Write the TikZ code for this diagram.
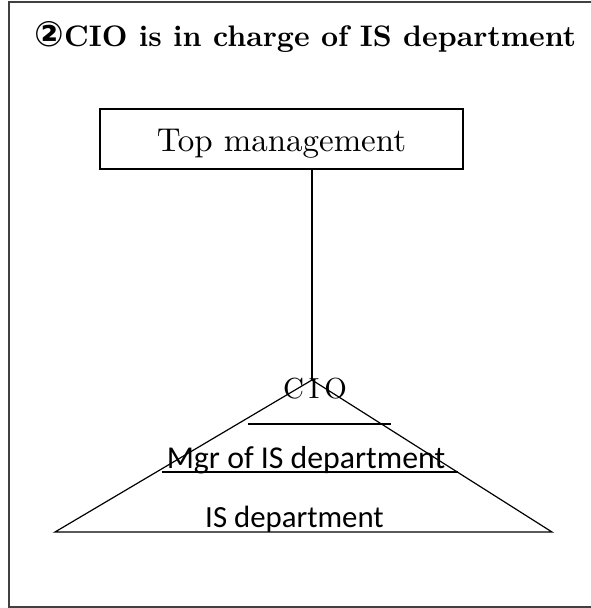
\documentclass[tikz,border=0pt]{standalone}
\usepackage{fontspec}
\newfontfamily\lmten{lmroman10-regular.otf}[BoldFont=lmroman10-bold.otf]
\newfontfamily\calibrifont{Carlito}
\newfontfamily\symbolfont{DejaVu Sans}
\usetikzlibrary{positioning}
\tikzset{ box/.style = { rectangle % top management box
        , draw
        , line width = 1.2pt
        , minimum width = 363pt
        , minimum height = 60pt
        , text height = 24pt
        , text depth = 0pt
        , font = \lmten\fontsize{33}{36}\selectfont
        }
        , tri_label/.style = { inner sep = 0pt % text inside the triangle
        , anchor = base
        , font = \calibrifont\fontsize{31.8}{34}\selectfont
        }
        }

\begin{document}
\begin{tikzpicture}[x=1pt, y=-1pt, line width=1.2pt,
        frame_style/.style={draw=black!75, line width=1.5pt},
        title_style/.style={anchor=base west, inner sep=0pt, font=\lmten\bfseries\fontsize{29.7}{32}\selectfont},
        cio_style/.style={anchor=base, inner sep=0pt, font=\lmten\fontsize{29}{32}\selectfont},
        edge_style/.style={draw=black, line width=1.2pt}]
        \useasboundingbox (0,0) rectangle (590,608);
        \draw [frame_style] (592,2) -- (9,2) -- (9,607) -- (592,607);

        \node [title_style](title) at (34,46) {{\symbolfont\fontsize{35}{36}\selectfont ②}CIO is in charge of IS department};
        \node [box](top) at (281.5,139) {Top management};

        \coordinate (apex)  at (312,380);
        \coordinate (base_l) at (55,532);
        \coordinate (base_r) at (552,532);
        \coordinate (cio_l) at (248,424);
        \coordinate (cio_r) at (391,424);
        \coordinate (mgr_l) at (162,472);
        \coordinate (mgr_r) at (458,472);

        \node [cio_style](cio) at (315,398) {C\hspace{0.17em}I\hspace{0.17em}O};
        \node [tri_label](mgr) at (306,468) {Mgr of IS department};
        \node [tri_label, font=\calibrifont\fontsize{30.8}{33}\selectfont](dept) at (294.5,527) {IS department};

        \draw [edge_style] (top.south -| apex) -- (apex);
        \draw [edge_style] (base_l) -- (apex) -- (base_r) -- cycle;
        \draw [edge_style] (cio_l) -- (cio_r);
        \draw [edge_style] (mgr_l) -- (mgr_r);
\end{tikzpicture}
\end{document}
